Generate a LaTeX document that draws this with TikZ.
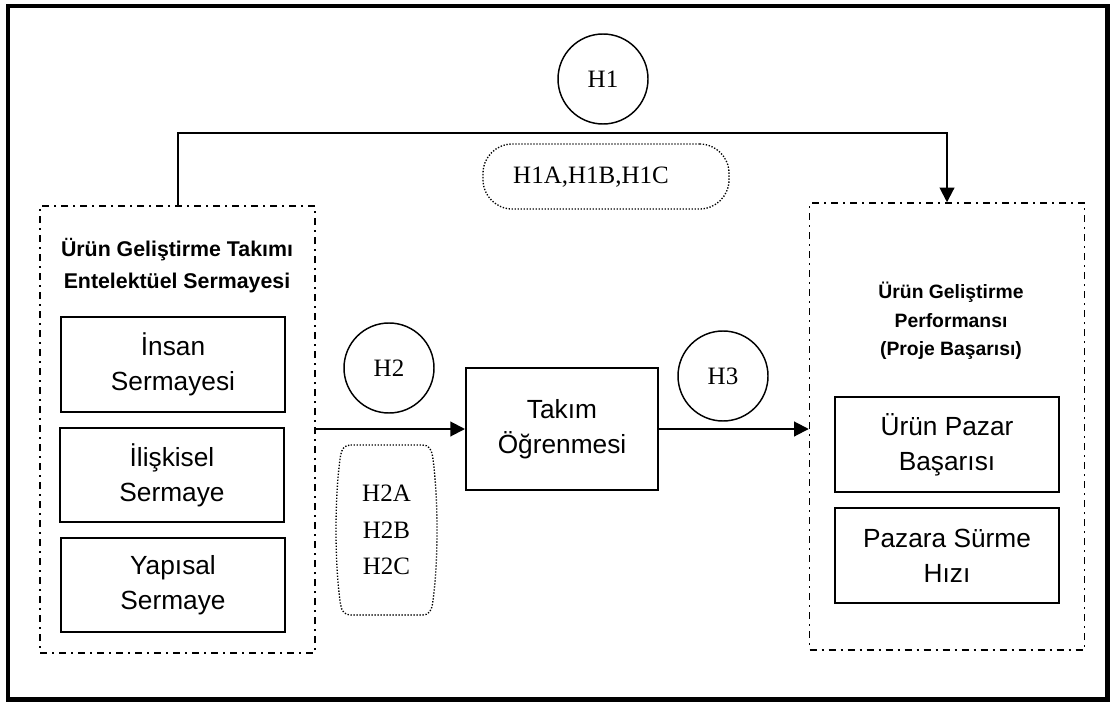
\documentclass[tikz,border=0pt]{standalone}
\usepackage{fontspec}
\setmainfont{Liberation Serif}
\setsansfont{Liberation Sans}
\usetikzlibrary{arrows.meta,calc}

\begin{document}
\begin{tikzpicture}[x=0.75pt,y=-0.75pt,
  frame/.style={line width=3.4pt},
  group/.style={draw, line width=1.1pt,
    dash pattern=on 5.25pt off 3.75pt on 1.5pt off 3.75pt,
    minimum width=206.25pt, minimum height=335.25pt, inner sep=0pt},
  grouptitle/.style={font=\sffamily\bfseries\fontsize{16pt}{24pt}\selectfont,
    align=center, inner sep=0pt},
  item/.style={draw, line width=1.5pt, minimum width=168pt, minimum height=71pt,
    inner sep=0pt, align=center,
    font=\sffamily\fontsize{19.7pt}{26.5pt}\selectfont},
  hyp/.style={draw, circle, line width=1.1pt, minimum size=67.5pt, inner sep=0pt,
    font=\fontsize{18.75pt}{22pt}\selectfont},
  dots/.style={line width=1pt, dash pattern=on 1pt off 1.25pt},
  sublabel/.style={inner sep=0pt, align=center,
    font=\fontsize{18.75pt}{27.4pt}\selectfont},
  conn/.style={line width=1.5pt, -{Triangle[length=11pt,width=11pt]}},
]
% page and outer frame
\fill[white] (0,0) rectangle (1112,702);
\useasboundingbox (0,0) rectangle (1112,702);
\draw[frame] (8,6) rectangle (1107.5,699.5);

% left group: intellectual capital
\node[group] (left) at (177.5,429.5) {};
\node[grouptitle] (lefttitle) at (177,266) {Ürün Geliştirme Takımı\\Entelektüel Sermayesi};
\node[item] (insan) at (173,364.5) {İnsan\\Sermayesi};
\node[item] (iliskisel) at (172,475) {İlişkisel\\Sermaye};
\node[item] (yapisal) at (173,585) {Yapısal\\Sermaye};

% mediator
\node[item, minimum width=144pt, minimum height=91.5pt] (takim) at (562,429) {Takım\\Öğrenmesi};

% right group: performance
\node[group] (right) at (947,426.5) {};
\node[grouptitle, font=\sffamily\bfseries\fontsize{14.5pt}{21.5pt}\selectfont]
  (righttitle) at (951,321) {Ürün Geliştirme\\Performansı\\(Proje Başarısı)};
\node[item] (pazar) at (947,444.5) {Ürün Pazar\\Başarısı};
\node[item] (hiz) at (947,555.5) {Pazara Sürme\\Hızı};

% hypotheses
\node[hyp] (h1) at (603,79) {H1};
\node[hyp] (h2) at (389,368) {H2};
\node[hyp] (h3) at (723,376) {H3};

% sub-hypotheses
\node[draw, dots, rounded corners=22pt, minimum width=184.5pt, minimum height=48.75pt]
  (h1shape) at (606,176.5) {};
\node[sublabel] (h1abc) at (591,177) {H1A,H1B,H1C};

\node[sublabel, minimum width=77.25pt, minimum height=127.5pt] (h2shape) at (386.5,530)
  {H2A\\H2B\\H2C};
\draw[dots]
  ($(h2shape.center)+(-36,-85)$) -- ($(h2shape.center)+(36,-85)$)
  .. controls ($(h2shape.center)+(42,-85)$) and ($(h2shape.center)+(45,-81)$) .. ($(h2shape.center)+(46,-74)$)
  .. controls ($(h2shape.center)+(52,-35)$) and ($(h2shape.center)+(52,35)$) .. ($(h2shape.center)+(46,74)$)
  .. controls ($(h2shape.center)+(45,81)$) and ($(h2shape.center)+(42,85)$) .. ($(h2shape.center)+(36,85)$)
  -- ($(h2shape.center)+(-36,85)$)
  .. controls ($(h2shape.center)+(-42,85)$) and ($(h2shape.center)+(-45,81)$) .. ($(h2shape.center)+(-46,74)$)
  .. controls ($(h2shape.center)+(-52,35)$) and ($(h2shape.center)+(-52,-35)$) .. ($(h2shape.center)+(-46,-74)$)
  .. controls ($(h2shape.center)+(-45,-81)$) and ($(h2shape.center)+(-42,-85)$) .. cycle;

% connectors
\coordinate (h1bar) at (603,133);
\draw[conn] (left.north) |- (h1bar) -| (right.north);
\draw[conn] (left.east |- takim.west) -- (takim.west);
\draw[conn] (takim.east) -- (takim.east -| right.west);
\end{tikzpicture}
\end{document}
